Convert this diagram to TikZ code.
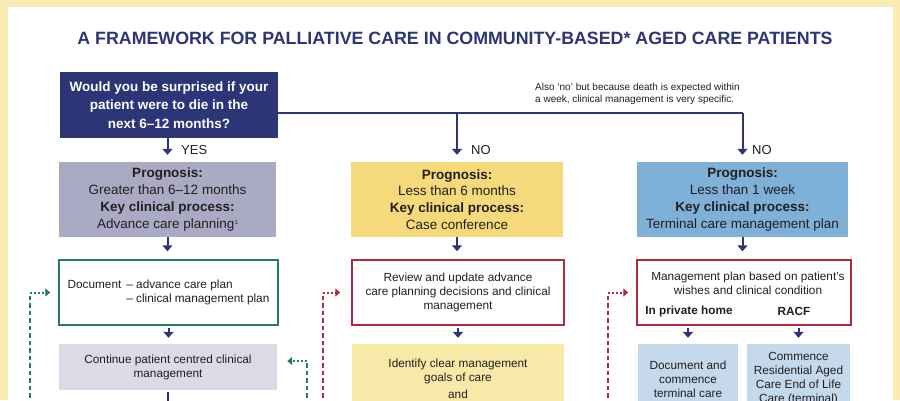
\documentclass[tikz,border=0pt]{standalone}
\usepackage{fontspec}
\setmainfont{Liberation Sans}
\usetikzlibrary{positioning, arrows.meta}

\definecolor{fwframe}{RGB}{251,236,180}
\definecolor{fwnavy}{RGB}{44,54,118}
\definecolor{fwgrey}{RGB}{171,170,196}
\definecolor{fwgreylight}{RGB}{219,218,229}
\definecolor{fwyellow}{RGB}{245,217,122}
\definecolor{fwyellowlight}{RGB}{249,233,168}
\definecolor{fwblue}{RGB}{127,176,216}
\definecolor{fwbluelight}{RGB}{196,217,235}
\definecolor{fwteal}{RGB}{34,121,110}
\definecolor{fwred}{RGB}{174,42,62}
\definecolor{fwtext}{RGB}{35,31,32}

\tikzset{
    box/.style={inner sep=0pt, align=center, text=fwtext},
    prog/.style={box, minimum height=75pt, font=\fontsize{13.5}{16.7}\selectfont},
    small/.style={box, font=\fontsize{11.8}{14}\selectfont},
    smallbold/.style={box, font=\fontsize{11.8}{14}\selectfont\bfseries},
    answer/.style={inner sep=0pt, anchor=west, text=fwtext, font=\fontsize{13}{13}\selectfont},
    arr/.style={draw=fwnavy, line width=2pt, -{Triangle[width=10pt,length=6pt]}},
    loopdash/.style={line width=2pt, dash pattern=on 4.5pt off 3pt},
    loopdot/.style={line width=2pt, dash pattern=on 1.8pt off 2.2pt, -{Triangle[width=8pt,length=5pt]}}
}

\begin{document}
\begin{tikzpicture}[x=1pt, y=-1pt]
        % background
        \useasboundingbox (0,0) rectangle (900,400);
        \clip (0,0) rectangle (900,400);
        \fill[fwframe] (0,0) rectangle (900,400);
        \fill[white] (8,7) rectangle (893,420);

        % title
        \node[font=\fontsize{17.8}{21}\selectfont\bfseries, text=fwnavy] (title) at (455,38)
            {A FRAMEWORK FOR PALLIATIVE CARE IN COMMUNITY-BASED* AGED CARE PATIENTS};

        % question
        \node[box, fill=fwnavy, text=white, minimum width=218pt, minimum height=66pt,
              font=\fontsize{13.5}{18.5}\selectfont\bfseries] (question) at (169,105)
            {Would you be surprised if your\\patient were to die in the\\next 6--12 months?};
        \node[inner sep=0pt, anchor=west, align=left, text=fwtext,
              font=\fontsize{10}{12}\selectfont] (note) at (535,94)
            {Also `no' but because death is expected within\\a week, clinical management is very specific.};

        % prognosis
        \node[prog, fill=fwgrey, minimum width=217pt] (prog1) at (167.5,199.5)
            {\textbf{Prognosis:}\\Greater than 6--12 months\\\textbf{Key clinical process:}\\Advance care planning\raisebox{4pt}{\fontsize{6}{6}\selectfont 1}};
        \node[prog, fill=fwyellow, minimum width=212pt] (prog2) at (457,199.5)
            {\textbf{Prognosis:}\\Less than 6 months\\\textbf{Key clinical process:}\\Case conference};
        \node[prog, fill=fwblue, minimum width=211pt] (prog3) at (742.5,199.5)
            {\textbf{Prognosis:}\\Less than 1 week\\\textbf{Key clinical process:}\\Terminal care management plan};

        % second row
        \node[small, draw=fwteal, line width=1.5pt, minimum width=219pt, minimum height=65pt] (doc) at (168.5,292.5)
            {\begin{tabular}{@{}l@{\hspace{5pt}}l@{}}Document & -- advance care plan\\ & -- clinical management plan\end{tabular}};
        \node[small, draw=fwred, line width=1.5pt, minimum width=212pt, minimum height=65pt] (review) at (458,292.5)
            {Review and update advance\\care planning decisions and clinical\\management};
        \node[small, draw=fwred, line width=1.5pt, minimum width=214pt, minimum height=65pt] (mgmt) at (744,292.5) {};
        \node[small] (mgmttxt) at (748,283.5) {Management plan based on patient's\\wishes and clinical condition};
        \node[smallbold] (homelbl) at (689,311) {In private home};
        \node[smallbold] (racflbl) at (794,311) {RACF};

        % third row
        \node[small, fill=fwgreylight, minimum width=218pt, minimum height=46pt] (cont) at (168,367)
            {Continue patient centred clinical\\management};
        \node[small, fill=fwyellowlight, minimum width=212pt, minimum height=70pt] (goals) at (458,379)
            {Identify clear management\\goals of care\\[3pt]and};
        \node[small, fill=fwbluelight, minimum width=100pt, minimum height=70pt] (home) at (688,379)
            {Document and\\commence\\terminal care};
        \node[small, fill=fwbluelight, minimum width=103pt, minimum height=70pt] (racf) at (798.5,379)
            {Commence\\Residential Aged\\Care End of Life\\Care (terminal)};

        % answers
        \coordinate (qout) at ([yshift=-8pt]question.east);
        \coordinate (split2) at (prog2.north |- qout);
        \coordinate (split3) at (prog3.north |- qout);
        \draw[fwnavy, line width=2pt] (qout) -- (split3);
        \draw[arr, shorten >=7pt] (prog1.north |- question.south) -- (prog1.north);
        \draw[arr, shorten >=7pt] (split2) -- (prog2.north);
        \draw[arr, shorten >=7pt] (split3) -- (prog3.north);
        \node[answer] (yes) at (181,150) {YES};
        \node[answer] (no2) at (471,150) {NO};
        \node[answer] (no3) at (752,150) {NO};

        % down the columns
        \draw[arr, shorten >=8pt] (prog1.south) -- (prog1.south |- doc.north);
        \draw[arr, shorten >=8pt] (prog2.south) -- (prog2.south |- review.north);
        \draw[arr, shorten >=8pt] (prog3.south) -- (prog3.south |- mgmt.north);
        \draw[arr, shorten <=2pt, shorten >=6pt] (doc.south) -- (doc.south |- cont.north);
        \draw[arr, shorten <=2pt, shorten >=6pt] (review.south) -- (review.south |- goals.north);
        \draw[arr, shorten <=2pt, shorten >=6pt] (mgmt.south -| home) -- (home.north);
        \draw[arr, shorten <=2pt, shorten >=6pt] (mgmt.south -| racf) -- (racf.north);
        \coordinate (contnext) at ([yshift=-25pt]cont.south);
        \draw[arr, shorten <=2pt] (cont.south) -- (contnext);

        % review loops
        \coordinate (tealA) at (30,405);
        \draw[fwteal, loopdash] (tealA) -- (tealA |- doc.west);
        \draw[fwteal, loopdot, shorten >=8pt] (tealA |- doc.west) -- (doc.west);
        \coordinate (tealB) at (307,405);
        \coordinate (contin) at ([yshift=6pt]cont.east);
        \draw[fwteal, loopdash] (tealB) -- (tealB |- contin);
        \draw[fwteal, loopdot, shorten >=10pt] (tealB |- contin) -- (contin);
        \coordinate (redA) at (323,405);
        \draw[fwred, loopdash] (redA) -- (redA |- review.west);
        \draw[fwred, loopdot, shorten >=11pt] (redA |- review.west) -- (review.west);
        \coordinate (redB) at (608,405);
        \draw[fwred, loopdash] (redB) -- (redB |- mgmt.west);
        \draw[fwred, loopdot, shorten >=8pt] (redB |- mgmt.west) -- (mgmt.west);
\end{tikzpicture}
\end{document}
